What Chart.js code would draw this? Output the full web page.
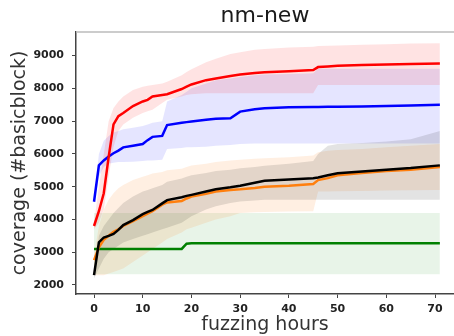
<!DOCTYPE html>
<html>
<head>
<meta charset="utf-8">
<script src="https://cdn.jsdelivr.net/npm/chart.js@4.4.0/dist/chart.umd.min.js"></script>
<style>
  html, body { margin: 0; padding: 0; background: #fff; }
</style>
</head>
<body>
<canvas id="coverageChart" width="454" height="336"></canvas>
<script>
// sample hours shared by every series
const hours = [0, 1, 2, 3, 4, 5, 6, 8, 10, 11, 12, 14, 15, 18, 19, 20, 23, 25, 28, 30, 33, 35, 40, 45, 46, 48, 50, 55, 60, 65, 71];

const xTicks = [0, 10, 20, 30, 40, 50, 60, 70];
const yTicks = [2000, 3000, 4000, 5000, 6000, 7000, 8000, 9000];

// red run: mean, min, max
const redMean = [3800, 4250, 4800, 5900, 6900, 7150, 7250, 7460, 7600, 7650, 7750, 7800, 7820, 7980, 8050, 8120, 8250, 8300, 8380, 8420, 8470, 8490, 8520, 8560, 8650, 8670, 8690, 8710, 8730, 8740, 8760];
const redLow = [3700, 3900, 4300, 5300, 6200, 6700, 6900, 7100, 7250, 7300, 7350, 7550, 7650, 7750, 7800, 7820, 7850, 7850, 7850, 7850, 7850, 7850, 7850, 7850, 8100, 8100, 8100, 8100, 8100, 8100, 8100];
const redHigh = [3900, 5000, 6000, 7000, 7400, 7600, 7750, 7950, 8050, 8080, 8100, 8150, 8200, 8400, 8500, 8580, 8800, 8900, 9050, 9100, 9180, 9200, 9250, 9270, 9290, 9300, 9310, 9330, 9350, 9370, 9380];

// blue run
const blueMean = [4540, 5650, 5800, 5920, 6020, 6100, 6200, 6250, 6300, 6420, 6520, 6550, 6880, 6950, 6970, 6990, 7040, 7070, 7090, 7290, 7360, 7390, 7420, 7430, 7430, 7440, 7440, 7450, 7460, 7480, 7500];
const blueLow = [4480, 5300, 5600, 5700, 5730, 5750, 5750, 5760, 5780, 5800, 5800, 5820, 6150, 6180, 6200, 6200, 6220, 6250, 6270, 6300, 6320, 6320, 6320, 6320, 6320, 6320, 6320, 6320, 6320, 6320, 6320];
const blueHigh = [4600, 6000, 6400, 6550, 6650, 6700, 6750, 6800, 6850, 6900, 6950, 7000, 7600, 7800, 7900, 8000, 8150, 8250, 8300, 8350, 8400, 8420, 8440, 8460, 8600, 8600, 8600, 8600, 8600, 8600, 8600];

// orange run
const orangeMean = [2760, 3150, 3380, 3500, 3620, 3700, 3800, 3950, 4100, 4180, 4250, 4450, 4520, 4560, 4640, 4700, 4780, 4850, 4900, 4920, 4960, 5000, 5030, 5080, 5200, 5260, 5350, 5420, 5480, 5520, 5600];
const orangeLow = [2300, 2300, 2300, 2350, 2400, 2450, 2500, 2700, 2900, 3000, 3100, 3300, 3400, 3600, 3700, 3750, 3900, 4000, 4100, 4200, 4220, 4230, 4240, 4250, 4850, 4850, 4860, 4870, 4880, 4890, 4900];
const orangeHigh = [2900, 3800, 4300, 4600, 4800, 4950, 5050, 5200, 5300, 5350, 5400, 5450, 5500, 5550, 5600, 5650, 5700, 5750, 5800, 5820, 5850, 5870, 5900, 5950, 6050, 6100, 6120, 6150, 6200, 6250, 6300];

// black run
const blackMean = [2300, 3300, 3450, 3500, 3560, 3680, 3830, 3980, 4160, 4230, 4290, 4490, 4590, 4680, 4720, 4750, 4850, 4920, 4980, 5030, 5120, 5180, 5220, 5260, 5280, 5350, 5410, 5460, 5520, 5570, 5650];
const blackLow = [2200, 2500, 2800, 3000, 3100, 3200, 3300, 3400, 3500, 3550, 3600, 3700, 3750, 3900, 4000, 4100, 4300, 4400, 4500, 4550, 4580, 4600, 4600, 4600, 4600, 4600, 4600, 4600, 4600, 4600, 4600];
const blackHigh = [2400, 3500, 3800, 4000, 4200, 4350, 4500, 4700, 4850, 4900, 4950, 5050, 5150, 5250, 5300, 5350, 5420, 5480, 5520, 5560, 5600, 5640, 5700, 5780, 6000, 6250, 6300, 6330, 6380, 6450, 6700];

// green run
const greenMean = [3100, 3100, 3100, 3100, 3100, 3100, 3100, 3100, 3100, 3100, 3100, 3100, 3100, 3100, 3260, 3270, 3270, 3270, 3270, 3270, 3270, 3270, 3270, 3270, 3270, 3270, 3270, 3270, 3270, 3270, 3270];
const greenLow = [2330, 2330, 2330, 2330, 2330, 2330, 2330, 2330, 2330, 2330, 2330, 2330, 2330, 2330, 2330, 2330, 2330, 2330, 2330, 2330, 2330, 2330, 2330, 2330, 2330, 2330, 2330, 2330, 2330, 2330, 2330];
const greenHigh = [4200, 4200, 4200, 4200, 4200, 4200, 4200, 4200, 4200, 4200, 4200, 4200, 4200, 4200, 4200, 4200, 4200, 4200, 4200, 4200, 4200, 4200, 4200, 4200, 4200, 4200, 4200, 4200, 4200, 4200, 4200];

// listed bottom to top
const runs = [
  { line: "rgb(0, 0, 255)", band: "rgba(0, 0, 255, 0.1)", mean: blueMean, low: blueLow, high: blueHigh },
  { line: "rgb(255, 0, 0)", band: "rgba(255, 0, 0, 0.11)", mean: redMean, low: redLow, high: redHigh },
  { line: "rgb(0, 128, 0)", band: "rgba(0, 128, 0, 0.09)", mean: greenMean, low: greenLow, high: greenHigh },
  { line: "rgb(255, 127, 14)", band: "rgba(255, 127, 14, 0.12)", mean: orangeMean, low: orangeLow, high: orangeHigh },
  { line: "rgb(0, 0, 0)", band: "rgba(0, 0, 0, 0.11)", mean: blackMean, low: blackLow, high: blackHigh },
];

function toPoints(values) {
  return hours.map((h, i) => ({ x: h, y: values[i] }));
}

let datasets = [];
for (let run of runs) {
  datasets.push({
    data: toPoints(run.low),
    borderWidth: 0,
    pointRadius: 0,
    fill: false,
  });
  datasets.push({
    data: toPoints(run.high),
    borderWidth: 0,
    pointRadius: 0,
    backgroundColor: run.band,
    fill: "-1",
  });
}
for (let run of runs) {
  datasets.push({
    data: toPoints(run.mean),
    borderColor: run.line,
    borderWidth: 2.5,
    pointRadius: 0,
    fill: false,
  });
}
// first dataset in the array is painted last, so flip the order
datasets.forEach((d, i) => (d.order = -i));

const spineColor = "#444";

// top spine of the axes box
const topSpine = {
  id: "topSpine",
  afterDraw(chart) {
    const { ctx, chartArea } = chart;
    ctx.save();
    ctx.strokeStyle = "#bbb";
    ctx.lineWidth = 1.5;
    ctx.beginPath();
    ctx.moveTo(chartArea.left, chartArea.top);
    ctx.lineTo(chartArea.right, chartArea.top);
    ctx.stroke();
    ctx.restore();
  },
};

const tickFont = { family: "DejaVu Sans", size: 11, weight: "bold" };

new Chart(document.getElementById("coverageChart"), {
  type: "line",
  data: { datasets: datasets },
  plugins: [topSpine],
  options: {
    responsive: false,
    animation: false,
    layout: { padding: 0 },
    plugins: {
      legend: { display: false },
      tooltip: { enabled: false },
      filler: { drawTime: "beforeDatasetsDraw" },
      title: {
        display: true,
        text: "nm-new",
        fullSize: false,
        color: "#1a1a1a",
        font: { family: "DejaVu Sans", size: 22, weight: "normal" },
        padding: { top: 3, bottom: 2.6 },
      },
    },
    scales: {
      x: {
        type: "linear",
        min: -3.7,
        max: 73.9,
        afterBuildTicks: (scale) => {
          scale.ticks = xTicks.map((v) => ({ value: v }));
        },
        afterFit: (scale) => {
          scale.height = 42;
        },
        grid: { drawOnChartArea: false, drawTicks: true, tickLength: 4, color: spineColor },
        border: { display: true, color: spineColor, width: 1.5 },
        ticks: { color: "#222", font: tickFont, padding: 5, maxRotation: 0, callback: (v) => String(v) },
        title: {
          display: true,
          text: "fuzzing hours",
          color: "#333",
          font: { family: "DejaVu Sans", size: 19 },
          padding: { top: 0, bottom: 0 },
        },
      },
      y: {
        type: "linear",
        min: 1725,
        max: 9720,
        afterBuildTicks: (scale) => {
          scale.ticks = yTicks.map((v) => ({ value: v }));
        },
        afterFit: (scale) => {
          scale.width = 76;
        },
        grid: { drawOnChartArea: false, drawTicks: true, tickLength: 4, color: spineColor },
        border: { display: true, color: spineColor, width: 1.5 },
        ticks: { color: "#222", font: tickFont, padding: 8, callback: (v) => String(v) },
        title: {
          display: true,
          text: "coverage (#basicblock)",
          color: "#333",
          font: { family: "DejaVu Sans", size: 19 },
          padding: { top: 9, bottom: 0 },
        },
      },
    },
  },
});
</script>
</body>
</html>
